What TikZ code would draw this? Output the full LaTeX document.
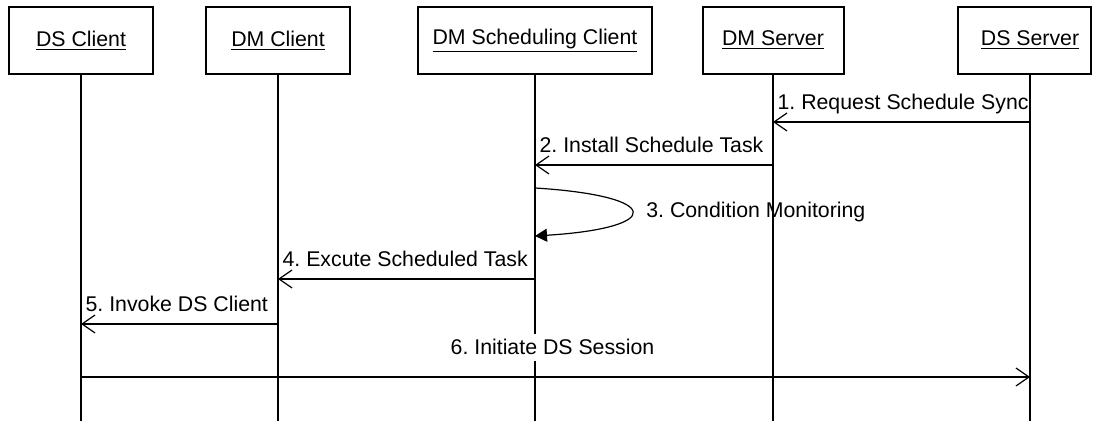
\documentclass[tikz,border=0pt]{standalone}
\usepackage{fontspec}
\setmainfont{Liberation Sans}
\usetikzlibrary{arrows.meta}
\frenchspacing

\tikzset{
    actor/.style={shape=rectangle, draw, line width=1pt, minimum height=33.5pt, inner sep=0pt},
    lifeline/.style={line width=1pt},
    msg/.style={line width=0.6pt, -{Straight Barb[length=6.5pt,width=9pt,line width=0.6pt]}},
    selfmsg/.style={line width=0.6pt, -{Triangle[length=6pt,width=6.5pt]}},
    msglabel/.style={anchor=base west, inner sep=0pt, xshift=2pt, yshift=6.25pt}
}

\begin{document}
\begin{tikzpicture}[x=0.5pt, y=-0.5pt, font=\fontsize{10.65pt}{12pt}\selectfont]
        \useasboundingbox (0,0) rectangle (1093,421);

        % objects
        \node (DS Client) [actor, minimum width=72pt] at (81,40.5) {\underline{DS Client}};
        \node (DM Client) [actor, minimum width=72pt] at (278,40.5) {\underline{DM Client}};
        \node (DM Scheduling Client) [actor, minimum width=117pt] at (535,40.5) {\underline{DM Scheduling Client}};
        \node (DM Server) [actor, minimum width=70.5pt] at (773,40.5) {\underline{DM Server}};
        \node (DS Server) [actor, minimum width=66.5pt] at (1024.5,40.5) {\hspace*{5.5pt}\underline{DS Server}};

        % lifelines
        \coordinate (DS Server line) at ([xshift=2.75pt]DS Server.south);
        \draw[lifeline] (DS Client.south) -- (DS Client.south |- 0,421);
        \draw[lifeline] (DM Client.south) -- (DM Client.south |- 0,421);
        \draw[lifeline] (DM Scheduling Client.south) -- (DM Scheduling Client.south |- 0,421);
        \draw[lifeline] (DM Server.south) -- (DM Server.south |- 0,421);
        \draw[lifeline] (DS Server line) -- (DS Server line |- 0,421);

        % messages
        \draw[msg] (DS Server line |- 0,122) -- (DM Server.south |- 0,122)
            node[msglabel, at end] {1. Request Schedule Sync};
        \draw[msg] (DM Server.south |- 0,165) -- (DM Scheduling Client.south |- 0,165)
            node[msglabel, at end] {2. Install Schedule Task};
        \draw[selfmsg] (DM Scheduling Client.south |- 0,188) .. controls (664,196) and (664,228) .. (DM Scheduling Client.south |- 0,236)
            node[pos=0.5, anchor=west, inner sep=0pt, xshift=7pt] {3. Condition Monitoring};
        \draw[msg] (DM Scheduling Client.south |- 0,279) -- (DM Client.south |- 0,279)
            node[msglabel, at end] {4. Excute Scheduled Task};
        \draw[msg] (DM Client.south |- 0,324) -- (DS Client.south |- 0,324)
            node[msglabel, at end] {5. Invoke DS Client};
        \draw[msg] (DS Client.south |- 0,377) -- (DS Server line |- 0,377)
            node[midway, anchor=base, fill=white, inner xsep=1pt, inner ysep=3pt, yshift=11pt, xshift=-1.5pt] {6. Initiate DS Session};
    \end{tikzpicture}
\end{document}
